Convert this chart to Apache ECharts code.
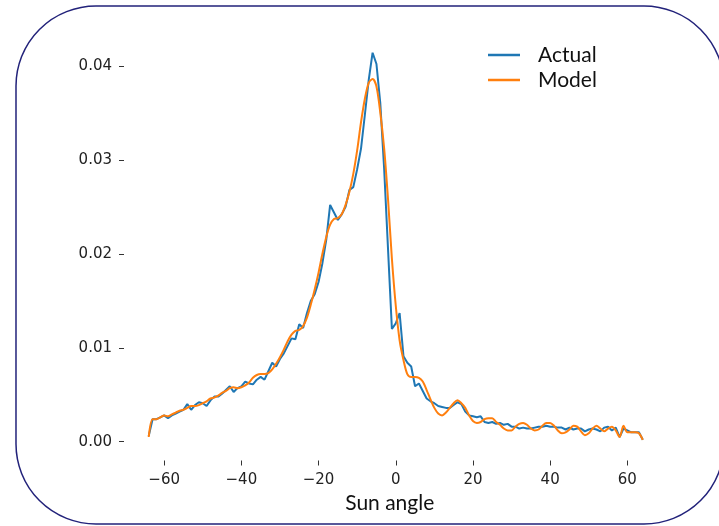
<!DOCTYPE html>
<html>
<head>
<meta charset="utf-8">
<script src="https://cdn.jsdelivr.net/npm/echarts@6/dist/echarts.min.js"></script>
<style>
html,body{margin:0;padding:0;background:#fff;}
#chart{width:719px;height:526px;}
</style>
</head>
<body>
<div id="chart"></div>
<script>
// Sun angle (x values)
const angles = [
 -64,-63,-62,-61,-60,-59,-58,-57,-56,-55,-54,-53,-52,-51,-50,-49,-48,-47,-46,-45,
 -44,-43,-42,-41,-40,-39,-38,-37,-36,-35,-34,-33,-32,-31,-30,-29,-28,-27,-26,-25,
 -24,-23,-22,-21,-20,-19,-18,-17,-16,-15,-14,-13,-12,-11,-10,-9,-8,-7,-6,-5,
 -4,-3,-2,-1,0,1,2,3,4,5,6,7,8,9,10,11,12,13,14,15,
 16,17,18,19,20,21,22,23,24,25,26,27,28,29,30,31,32,33,34,35,
 36,37,38,39,40,41,42,43,44,45,46,47,48,49,50,51,52,53,54,55,
 56,57,58,59,60,61,62,63,64
];
// Actual (blue)
const actual = [
 0.0006,0.0024,0.0024,0.0026,0.0028,0.0025,0.0028,0.0030,0.0032,0.0034,0.0040,0.0034,0.0039,0.0042,0.0041,0.0038,0.0044,0.0048,0.0048,0.0051,
 0.0055,0.0059,0.0053,0.0057,0.0059,0.0064,0.0062,0.0061,0.0066,0.0069,0.0066,0.0075,0.0084,0.0080,0.0088,0.0094,0.0102,0.0110,0.0109,0.0125,
 0.0121,0.0137,0.0150,0.0157,0.0170,0.0190,0.0215,0.0252,0.0244,0.0236,0.0242,0.0250,0.0268,0.0271,0.0290,0.0312,0.0348,0.0385,0.0414,0.0402,
 0.0360,0.0290,0.0205,0.0120,0.0126,0.0137,0.0091,0.0084,0.0080,0.0059,0.0062,0.0054,0.0046,0.0043,0.0041,0.0038,0.0037,0.0036,0.0036,0.0039,
 0.0042,0.0040,0.0032,0.0028,0.0027,0.0026,0.0027,0.0021,0.0020,0.0021,0.0019,0.0020,0.0018,0.0019,0.0016,0.0016,0.0014,0.0015,0.0014,0.0014,
 0.0015,0.0016,0.0016,0.0017,0.0016,0.0016,0.0015,0.0015,0.0013,0.0015,0.0013,0.0014,0.0014,0.0011,0.0013,0.0014,0.0013,0.0011,0.0015,0.0016,
 0.0012,0.0015,0.0005,0.0014,0.0012,0.0010,0.0010,0.0010,0.0002
];
// Model (orange)
const model = [
 0.0005,0.0024,0.0024,0.0026,0.0028,0.0027,0.0029,0.0031,0.0033,0.0034,0.0036,0.0038,0.0038,0.0039,0.0041,0.0043,0.0046,0.0047,0.0049,0.0052,
 0.0054,0.0057,0.0058,0.0057,0.0058,0.0060,0.0063,0.0068,0.0071,0.0072,0.0072,0.0073,0.0077,0.0083,0.0090,0.0098,0.0107,0.0114,0.0118,0.0119,
 0.0123,0.0132,0.0146,0.0162,0.0180,0.0200,0.0218,0.0231,0.0237,0.0238,0.0242,0.0252,0.0266,0.0285,0.0310,0.0340,0.0365,0.0382,0.0386,0.0378,
 0.0350,0.0312,0.0258,0.0195,0.0145,0.0108,0.0087,0.0072,0.0069,0.0069,0.0068,0.0064,0.0055,0.0045,0.0036,0.0030,0.0028,0.0031,0.0036,0.0041,
 0.0044,0.0041,0.0036,0.0028,0.0022,0.0020,0.0021,0.0024,0.0025,0.0025,0.0021,0.0018,0.0014,0.0012,0.0012,0.0016,0.0019,0.0020,0.0018,0.0014,
 0.0012,0.0013,0.0017,0.0020,0.0020,0.0017,0.0012,0.0009,0.0010,0.0013,0.0017,0.0016,0.0011,0.0007,0.0009,0.0014,0.0017,0.0014,0.0011,0.0014,
 0.0016,0.0012,0.0005,0.0017,0.0010,0.0010,0.0010,0.0009,0.0002
];
const xTicks = [-60,-40,-20,0,20,40,60];
const yTicks = [0,0.01,0.02,0.03,0.04];
const seriesNames = ['Actual','Model'];
const xName = 'Sun angle';

const chart = echarts.init(document.getElementById('chart'), null, {renderer:'canvas'});
const tickFont = {fontFamily:'DejaVu Sans', fontSize:15, color:'#222'};
chart.setOption({
  animation:false,
  backgroundColor:'#ffffff',
  grid:{left:124, right:51.5, top:33, bottom:65.5, containLabel:false},
  legend:{
    orient:'vertical', left:483, top:39, itemGap:3,
    itemWidth:32, itemHeight:2.5, icon:'rect',
    data:seriesNames,
    textStyle:{fontFamily:'Lato', fontSize:21, color:'#111', padding:[0,0,0,13], lineHeight:22}
  },
  xAxis:{
    type:'value', min:-70.4, max:70.4,
    name:xName, nameLocation:'middle', nameGap:32,
    nameTextStyle:{fontFamily:'Lato', fontSize:21, color:'#111', padding:[0,12,0,0]},
    axisLine:{show:false, onZero:false},
    axisTick:{show:true, length:5, customValues:xTicks, lineStyle:{color:'#333', width:1}},
    axisLabel:{show:true, margin:12, customValues:xTicks, ...tickFont,
      formatter:v=>String(v).replace('-', '\u2212')},
    splitLine:{show:false}
  },
  yAxis:{
    type:'value', min:-0.002, max:0.0435,
    axisLine:{show:false, onZero:false},
    axisTick:{show:true, length:5, customValues:yTicks, lineStyle:{color:'#333', width:1}},
    axisLabel:{show:true, margin:12, customValues:yTicks, ...tickFont,
      formatter:v=>v.toFixed(2)},
    splitLine:{show:false}
  },
  series:[
    {name:seriesNames[0], type:'line', showSymbol:false, symbol:'none',
     data:angles.map((a,i)=>[a,actual[i]]),
     lineStyle:{color:'#1f77b4', width:2}, itemStyle:{color:'#1f77b4'}, z:2},
    {name:seriesNames[1], type:'line', showSymbol:false, symbol:'none', smooth:0.3,
     data:angles.map((a,i)=>[a,model[i]]),
     lineStyle:{color:'#ff7f0e', width:2}, itemStyle:{color:'#ff7f0e'}, z:3}
  ],
  graphic:[{
    type:'rect', silent:true, z:100,
    shape:{x:16, y:6, width:708, height:518, r:80},
    style:{fill:'none', stroke:'#22227a', lineWidth:1.5}
  }]
});
</script>
</body>
</html>
